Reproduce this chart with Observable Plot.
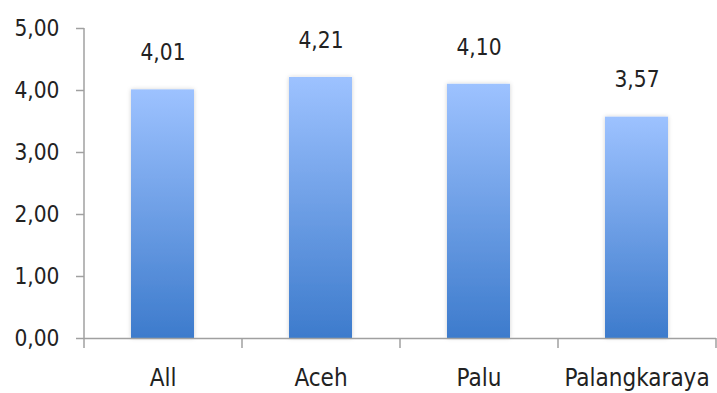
<!DOCTYPE html>
<html>
<head>
<meta charset="utf-8">
<script src="https://cdn.jsdelivr.net/npm/d3@7"></script>
<script src="https://cdn.jsdelivr.net/npm/@observablehq/plot@0.6"></script>
<style>
  html, body { margin: 0; padding: 0; background: #fff; }
  #chart svg { display: block; }
  #chart svg text { font-family: "DejaVu Sans Condensed", "DejaVu Sans", sans-serif; font-stretch: condensed; }
</style>
</head>
<body>
<div id="chart"></div>
<script>
const categories = ["All", "Aceh", "Palu", "Palangkaraya"];
const values = [4.01, 4.21, 4.10, 3.57];
const yTicks = [0, 1, 2, 3, 4, 5];

const data = categories.map((c, i) => ({category: c, value: values[i]}));

const W = 717, H = 393;
const mL = 84, mR = 1, mT = 28, mB = 55;
const step = (W - mL - mR) / categories.length;
const fmt = d => d.toFixed(2).replace(".", ",");

function gradientDefs() {
  const ns = "http://www.w3.org/2000/svg";
  const defs = document.createElementNS(ns, "defs");
  const g = document.createElementNS(ns, "linearGradient");
  g.setAttribute("id", "barGrad");
  g.setAttribute("x1", "0"); g.setAttribute("y1", "0");
  g.setAttribute("x2", "0"); g.setAttribute("y2", "1");
  [["0%", "#9dc2ff"], ["100%", "#3d7bcc"]].forEach(([o, c]) => {
    const s = document.createElementNS(ns, "stop");
    s.setAttribute("offset", o); s.setAttribute("stop-color", c);
    g.appendChild(s);
  });
  const f = document.createElementNS(ns, "filter");
  f.setAttribute("id", "barShadow");
  f.setAttribute("x", "-20%"); f.setAttribute("y", "-5%");
  f.setAttribute("width", "140%"); f.setAttribute("height", "110%");
  const sh = document.createElementNS(ns, "feDropShadow");
  sh.setAttribute("dx", "0"); sh.setAttribute("dy", "0");
  sh.setAttribute("stdDeviation", "2");
  sh.setAttribute("flood-color", "#000"); sh.setAttribute("flood-opacity", "0.18");
  f.appendChild(sh);
  defs.appendChild(g);
  defs.appendChild(f);
  return defs;
}

const AXIS = "#a0a0a0";

const chart = Plot.plot({
  width: W,
  height: H,
  marginLeft: mL,
  marginRight: mR,
  marginTop: mT,
  marginBottom: mB,
  style: {fontSize: "22px", color: "#222", background: "#fff"},
  x: {type: "band", domain: categories, paddingInner: 0.6, paddingOuter: 0.3, label: null, axis: null},
  y: {type: "linear", domain: [0, 5], label: null, axis: null},
  marks: [
    gradientDefs,
    Plot.barY(data, {x: "category", y: "value", fill: "url(#barGrad)"}),
    Plot.ruleY([0], {stroke: AXIS, strokeWidth: 1.5}),
    // vertical value axis line at the left edge of the first band
    Plot.ruleX([categories[0]], {x: d => d, dx: -step / 2, y1: 5, y2: 0, insetBottom: -10, stroke: AXIS, strokeWidth: 1.5}),
    // category separator ticks at the right edge of each band
    Plot.ruleX(categories, {x: d => d, dx: step / 2, y1: 0, y2: 0, insetBottom: -10, stroke: AXIS, strokeWidth: 1.5}),
    Plot.axisX({
      tickSize: 0,
      tickPadding: 30,
      fontSize: 24,
      fill: "#222"
    }),
    Plot.axisY(yTicks, {
      tickSize: 8,
      tickPadding: 17,
      tickFormat: fmt,
      stroke: AXIS,
      strokeWidth: 1.5,
      fontSize: 22.5,
      fill: "#222"
    }),
    Plot.text(data, {x: "category", y: "value", text: d => fmt(d.value), dy: -37, fontSize: 22.5, fill: "#222"})
  ]
});

chart.querySelectorAll("g[aria-label='bar'] rect").forEach(r => r.setAttribute("filter", "url(#barShadow)"));
document.getElementById("chart").appendChild(chart);
</script>
</body>
</html>
